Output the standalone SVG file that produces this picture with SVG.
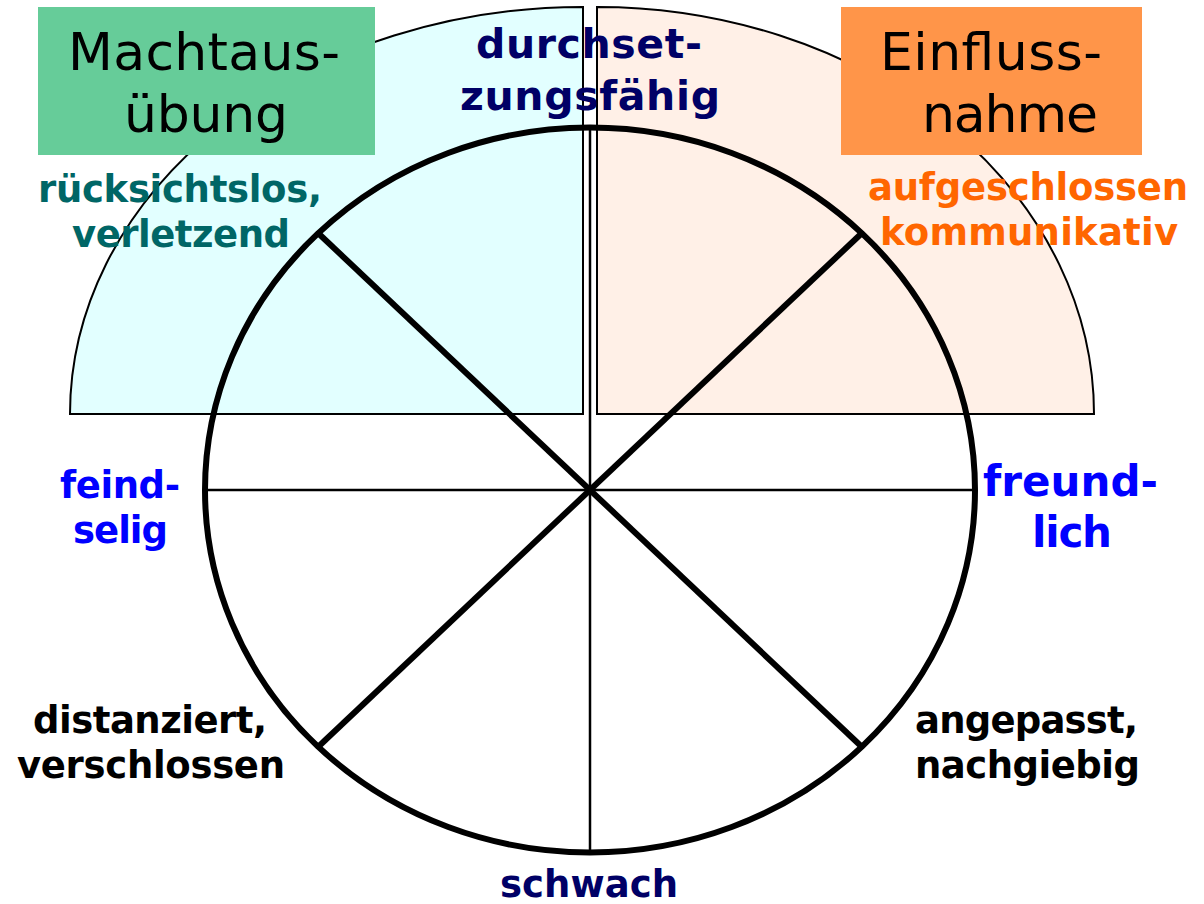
<svg xmlns="http://www.w3.org/2000/svg" width="1204" height="904" viewBox="0 0 1204 904">
<style>
.lbl{font-family:"DejaVu Sans","Verdana",sans-serif;font-weight:bold;font-size:37px}
.big{font-size:41px}
.head{font-family:"DejaVu Sans","Verdana",sans-serif;font-size:52px;fill:#000}
.quad{stroke:#000;stroke-width:2}
.thin{stroke:#000;stroke-width:2.5;fill:none}
.thick{stroke:#000;stroke-width:6;fill:none}
</style>
<rect width="1204" height="904" fill="#fff"/>
<g id="quad-left"><path class="quad" fill="#E2FFFF" d="M70,414 A513,407 0 0 1 583,7 L583,414 Z"/></g>
<g id="quad-right"><path class="quad" fill="#FFF0E7" d="M597,414 L597,7 A497,407 0 0 1 1094,414 Z"/></g>
<g id="box-macht">
<rect x="38" y="7" width="337" height="148" fill="#66CC99"/>
<text class="head" x="68" y="70" textLength="272">Machtaus-</text>
<text class="head" x="124" y="132" textLength="164">übung</text>
</g>
<g id="box-einfluss">
<rect x="841" y="7" width="301" height="148" fill="#FF9549"/>
<text class="head" x="880" y="70" textLength="222">Einfluss-</text>
<text class="head" x="922" y="132" textLength="176">nahme</text>
</g>
<g id="connectors">
<line class="thin" x1="590" y1="128" x2="590" y2="853"/>
<line class="thin" x1="205" y1="490" x2="975" y2="490"/>
<line class="thick" x1="318" y1="233" x2="862" y2="747"/>
<line class="thick" x1="862" y1="233" x2="318" y2="747"/>
</g>
<g id="circle"><ellipse class="thick" cx="590" cy="490" rx="385" ry="362.5"/></g>
<g id="label-top" fill="#000066">
<text class="lbl big" x="476" y="58" textLength="226">durchset-</text>
<text class="lbl big" x="460" y="110" textLength="260">zungsfähig</text>
</g>
<g id="label-topleft" fill="#006666">
<text class="lbl" x="38" y="202" textLength="284">rücksichtslos,</text>
<text class="lbl" x="72" y="247" textLength="218">verletzend</text>
</g>
<g id="label-topright" fill="#FF6600">
<text class="lbl" x="868" y="200" textLength="320">aufgeschlossen</text>
<text class="lbl" x="880" y="245" textLength="298">kommunikativ</text>
</g>
<g id="label-left" fill="#0000FF">
<text class="lbl" x="60" y="498" textLength="120">feind-</text>
<text class="lbl" x="73" y="543" textLength="95">selig</text>
</g>
<g id="label-right" fill="#0000FF">
<text class="lbl" style="font-size:42px" x="983" y="496" textLength="175">freund-</text>
<text class="lbl" style="font-size:42px" x="1032" y="547" textLength="80">lich</text>
</g>
<g id="label-bottomleft" fill="#000">
<text class="lbl" x="33" y="733" textLength="234">distanziert,</text>
<text class="lbl" x="17" y="778" textLength="268">verschlossen</text>
</g>
<g id="label-bottomright" fill="#000">
<text class="lbl" x="915" y="733" textLength="223">angepasst,</text>
<text class="lbl" x="915" y="778" textLength="225">nachgiebig</text>
</g>
<g id="label-bottom" fill="#000066">
<text class="lbl" x="500" y="897" textLength="178">schwach</text>
</g>
</svg>
